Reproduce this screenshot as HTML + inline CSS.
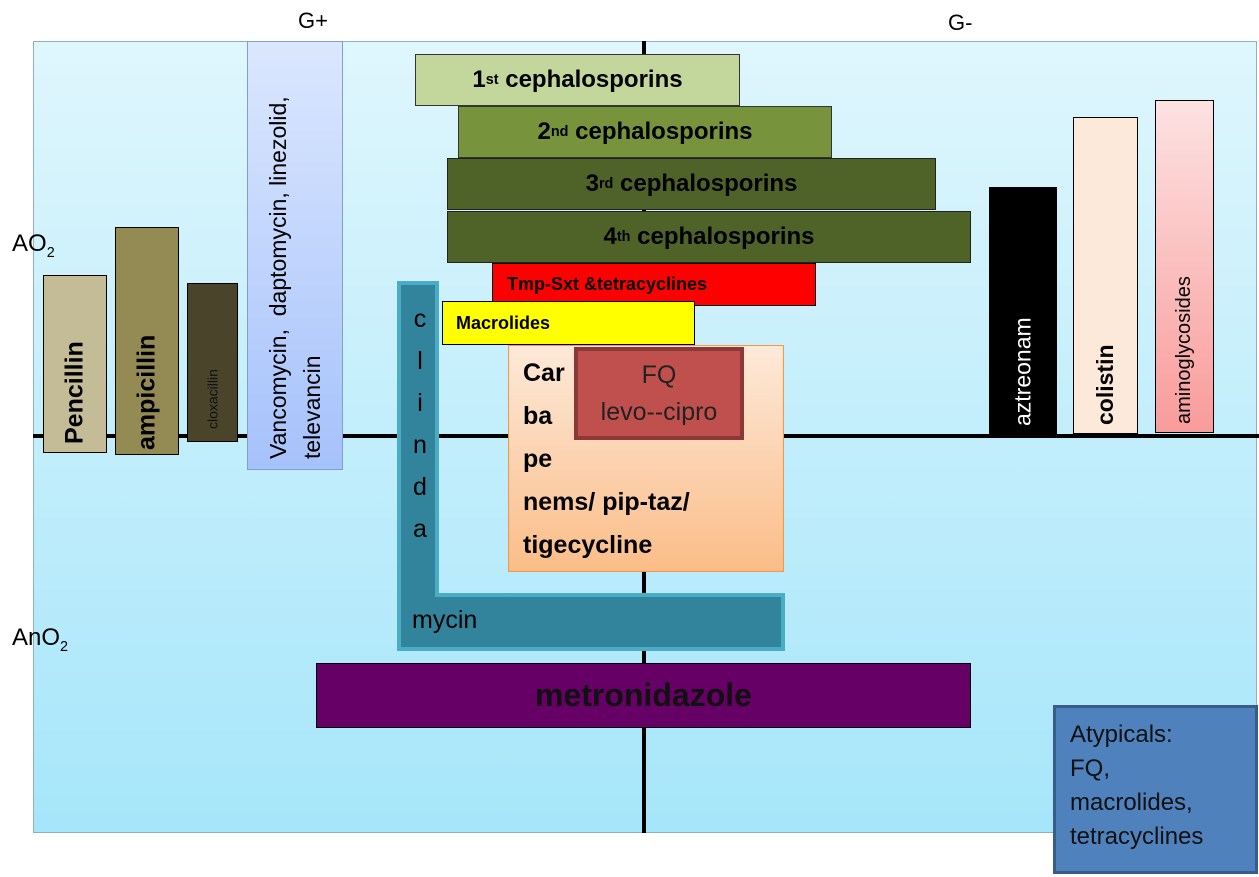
<!DOCTYPE html>
<html><head><meta charset="utf-8"><style>
body{margin:0;width:1259px;height:877px;background:#fff;position:relative;overflow:hidden;font-family:"Liberation Sans",sans-serif;}
.a{position:absolute;box-sizing:border-box;}
.v{position:absolute;box-sizing:border-box;writing-mode:vertical-rl;transform:rotate(180deg);display:flex;align-items:center;white-space:nowrap;}
.h{display:flex;align-items:center;justify-content:center;font-weight:bold;color:#000;}
sup{font-size:0.6em;line-height:0;}
sub{font-size:0.6em;}
</style></head><body>
<div class="a" style="left:33px;top:41px;width:1224px;height:792px;background:linear-gradient(#dff6fd,#a6e6fa);border:1px solid #8fb0c0;"></div>
<div class="a" style="left:33px;top:434px;width:1226px;height:4px;background:#000;"></div>
<div class="a" style="left:642px;top:41px;width:4px;height:792px;background:#000;"></div>
<div class="a" style="left:298px;top:8px;font-size:22px;">G+</div>
<div class="a" style="left:948px;top:10px;font-size:22px;">G-</div>
<div class="a" style="left:12px;top:230px;font-size:24px;">AO<sub>2</sub></div>
<div class="a" style="left:12px;top:624px;font-size:24px;">AnO<sub>2</sub></div>

<div class="v" style="left:43px;top:275px;width:64px;height:178px;background:#c4bc97;border:1px solid #000;padding-top:8px;font-weight:bold;font-size:25px;">Pencillin</div>
<div class="v" style="left:115px;top:227px;width:64px;height:228px;background:#948a54;border:1px solid #000;padding-top:4px;font-weight:bold;font-size:25px;">ampicillin</div>
<div class="v" style="left:187px;top:283px;width:51px;height:159px;background:#4a442a;border:1px solid #000;padding-top:12px;font-size:14px;color:#111;">cloxacillin</div>
<div class="v" style="left:247px;top:41px;width:96px;height:429px;background:linear-gradient(to top,#dbe7fe,#a6c2fb);border:1px solid #7f9fd0;padding-top:10px;font-size:23px;justify-content:center;line-height:34px;white-space:normal;"><div>Vancomycin, &nbsp;daptomycin, linezolid, televancin</div></div>

<div class="a" style="left:397px;top:281px;width:42px;height:370px;background:#31849b;border:4px solid #4bacc6;"></div>
<div class="a" style="left:397px;top:593px;width:388px;height:58px;background:#31849b;border:4px solid #4bacc6;"></div>
<div class="a" style="left:401px;top:285px;width:34px;height:362px;background:#31849b;"></div>
<div class="a" style="left:405px;top:298px;width:30px;font-size:25px;line-height:42px;text-align:center;">c<br>l<br>i<br>n<br>d<br>a</div>
<div class="a" style="left:412px;top:606px;font-size:25px;">mycin</div>

<div class="a h" style="left:415px;top:54px;width:325px;height:52px;background:#c3d69b;border:1px solid #333;font-size:24px;">1<sup>st</sup>&nbsp;cephalosporins</div>
<div class="a h" style="left:458px;top:106px;width:374px;height:52px;background:#77933c;border:1px solid #333;font-size:24px;">2<sup>nd</sup>&nbsp;cephalosporins</div>
<div class="a h" style="left:447px;top:158px;width:489px;height:52px;background:#4f6228;border:1px solid #222;font-size:24px;">3<sup>rd</sup>&nbsp;cephalosporins</div>
<div class="a h" style="left:447px;top:211px;width:524px;height:52px;background:#4f6228;border:1px solid #222;font-size:24px;">4<sup>th</sup>&nbsp;cephalosporins</div>
<div class="a h" style="left:492px;top:263px;width:324px;height:43px;background:#f00;border:1px solid #000;font-size:18px;justify-content:flex-start;padding-left:14px;">Tmp-Sxt &amp;tetracyclines</div>
<div class="a h" style="left:442px;top:301px;width:253px;height:44px;background:#ff0;border:1px solid #000;font-size:18px;justify-content:flex-start;padding-left:13px;">Macrolides</div>

<div class="a" style="left:508px;top:345px;width:276px;height:227px;background:linear-gradient(#fde9d9,#fbbd88);border:1px solid #f79646;padding:6px 0 0 14px;font-weight:bold;font-size:25px;line-height:43px;">Car<br>ba<br>pe<br>nems/ pip-taz/<br>tigecycline</div>
<div class="a" style="left:574px;top:347px;width:170px;height:93px;background:#c0504d;border:4px solid #8c3836;text-align:center;font-size:25px;line-height:37px;padding-top:6px;color:#222;">FQ<br>levo--cipro</div>

<div class="a h" style="left:316px;top:663px;width:655px;height:65px;background:#660066;border:1px solid #000;font-size:32px;color:#111;">metronidazole</div>

<div class="v" style="left:989px;top:187px;width:68px;height:247px;background:#000;color:#fff;padding-top:8px;font-size:23px;">aztreonam</div>
<div class="v" style="left:1073px;top:117px;width:65px;height:317px;background:#fde9d9;border:1px solid #000;padding-top:8px;font-weight:bold;font-size:23px;">colistin</div>
<div class="v" style="left:1155px;top:100px;width:59px;height:333px;background:linear-gradient(to top,#fde2e2,#f99b9b);border:1px solid #000;padding-top:8px;font-size:20px;">aminoglycosides</div>

<div class="a" style="left:1053px;top:705px;width:205px;height:169px;background:#4f81bd;border:3px solid #385d8a;padding:10px 0 0 14px;font-size:24px;line-height:34px;color:#111;">Atypicals:<br>FQ,<br>macrolides,<br>tetracyclines</div>
</body></html>
